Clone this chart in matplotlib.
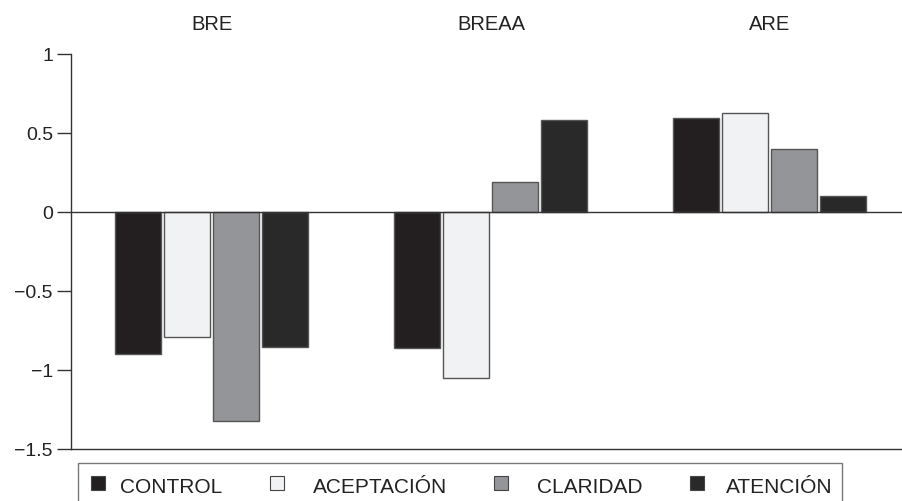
import matplotlib
matplotlib.use('Agg')
import matplotlib.pyplot as plt
from matplotlib.patches import Rectangle
import numpy as np

plt.rcParams['font.family'] = ['Liberation Sans', 'DejaVu Sans']

GROUPS = ["BRE", "BREAA", "ARE"]
SERIES = ["CONTROL", "ACEPTACIÓN", "CLARIDAD", "ATENCIÓN"]
VALUES = {
    "CONTROL":    [-0.90, -0.86, 0.595],
    "ACEPTACIÓN": [-0.79, -1.05, 0.627],
    "CLARIDAD":   [-1.32, 0.19, 0.40],
    "ATENCIÓN":   [-0.855, 0.58, 0.10],
}
COLORS = {
    "CONTROL": "#231f20",
    "ACEPTACIÓN": "#f1f2f4",
    "CLARIDAD": "#939598",
    "ATENCIÓN": "#2a292a",
}
YTICKS = [-1.5, -1, -0.5, 0, 0.5, 1]
YTICKLABELS = ["\u22121.5", "\u22121", "\u22120.5", "0", "0.5", "1"]

W, H = 903, 502
fig = plt.figure(figsize=(W / 100, H / 100), dpi=100)


def fx(px):
    return px / W


def fy(py):
    return 1 - py / H


ax = fig.add_axes([fx(71), fy(450), fx(903) - fx(71), fy(55) - fy(450)])

x = np.arange(len(GROUPS))
step, width = 0.1756, 0.165
for i, s in enumerate(SERIES):
    ax.bar(x + (i - 1.5) * step, VALUES[s], width=width, color=COLORS[s],
           edgecolor='#555555', linewidth=1.0, zorder=3)

ax.axhline(0, color='#333333', linewidth=1.0, zorder=4)
ax.set_xlim(-0.505, 2.477)
ax.set_ylim(-1.5, 1)
ax.set_xticks([])
ax.set_yticks(YTICKS)
ax.set_yticklabels(YTICKLABELS, fontsize=14, color='#222222')
ax.tick_params(axis='y', length=10, width=1.0, pad=3, color='#333333')
for sp in ['top', 'right']:
    ax.spines[sp].set_visible(False)
for sp in ['left', 'bottom']:
    ax.spines[sp].set_color('#333333')
    ax.spines[sp].set_linewidth(1.0)

for xi, g in zip(x, GROUPS):
    ax.text(xi, 1 + 30 / 395, g, transform=ax.get_xaxis_transform(),
            ha='center', va='center', fontsize=14.5, color='#222222')

# legend drawn by hand in a box that runs off the bottom edge
fig.add_artist(Rectangle((fx(78), fy(520)), fx(842) - fx(78), fy(464) - fy(520),
                         transform=fig.transFigure, fill=False,
                         edgecolor='#777777', linewidth=1.0))
marker_x = [91, 270, 494, 690]
text_x = [120, 313, 537, 726]
for s, mx, tx in zip(SERIES, marker_x, text_x):
    fig.add_artist(Rectangle((fx(mx), fy(491)), fx(14), 14 / H,
                             transform=fig.transFigure, facecolor=COLORS[s],
                             edgecolor='#444444', linewidth=0.8))
    fig.text(fx(tx), fy(488), s, ha='left', va='center', fontsize=15, color='#222222')

fig.savefig('out.png', dpi=100)
